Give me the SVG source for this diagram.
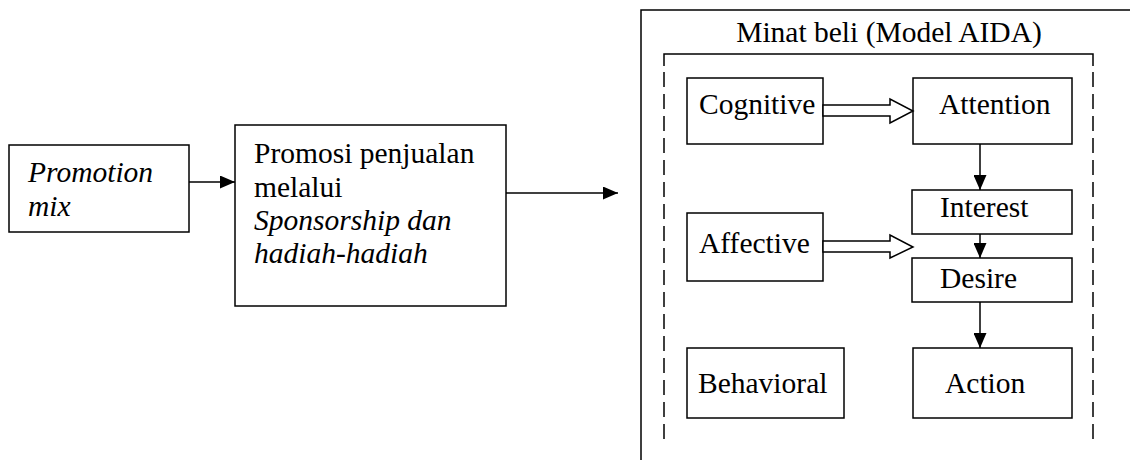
<svg xmlns="http://www.w3.org/2000/svg" width="1130" height="460" viewBox="0 0 1130 460">
<style>
  .box { fill: #fff; stroke: #000; stroke-width: 1.5; }
  text { font-family: 'Liberation Serif', 'DejaVu Serif', serif; font-size: 29.5px; fill: #000; }
  .i { font-style: italic; }
  .ln { fill: none; stroke: #000; stroke-width: 1.5; }
  .dash { fill: none; stroke: #000; stroke-width: 1.5; stroke-dasharray: 15 7; }
  .hollow { fill: #fff; stroke: #000; stroke-width: 1.5; stroke-linejoin: miter; }
</style>
<defs>
  <marker id="ah" viewBox="0 0 15 13" refX="15" refY="6.5" markerWidth="15" markerHeight="13" markerUnits="userSpaceOnUse" orient="auto">
    <path d="M0,0 L15,6.5 L0,13 Z" fill="#000"/>
  </marker>
</defs>
<rect width="1130" height="460" fill="#fff"/>

<g id="frame">
  <path class="ln" d="M641,470 L641,10 L1140,10"/>
  <text x="889" y="42" text-anchor="middle">Minat beli (Model AIDA)</text>
  <path class="ln" d="M664,66 L664,54 L1093,54 L1093,66"/>
  <path class="dash" d="M664,72 L664,440"/>
  <path class="dash" d="M1093,72 L1093,440"/>
</g>

<g id="promotion-mix">
  <rect class="box" x="9" y="145" width="180" height="87"/>
  <text class="i" x="28" y="182">Promotion</text>
  <text class="i" x="28" y="216">mix</text>
</g>

<g id="promosi">
  <rect class="box" x="235" y="125" width="271" height="181"/>
  <text x="254" y="163">Promosi penjualan</text>
  <text x="254" y="197">melalui</text>
  <text class="i" x="254" y="230">Sponsorship dan</text>
  <text class="i" x="254" y="263">hadiah-hadiah</text>
</g>

<g id="cognitive">
  <rect class="box" x="687" y="78" width="136" height="66"/>
  <text x="699" y="114">Cognitive</text>
</g>
<g id="attention">
  <rect class="box" x="913" y="78" width="159" height="66"/>
  <text x="939" y="114">Attention</text>
</g>
<g id="affective">
  <rect class="box" x="687" y="213" width="136" height="68"/>
  <text x="699" y="253">Affective</text>
</g>
<g id="interest">
  <rect class="box" x="912" y="190" width="160" height="44"/>
  <text x="940" y="217">Interest</text>
</g>
<g id="desire">
  <rect class="box" x="912" y="258" width="160" height="44"/>
  <text x="940" y="288">Desire</text>
</g>
<g id="behavioral">
  <rect class="box" x="687" y="348" width="157" height="70"/>
  <text x="698" y="393">Behavioral</text>
</g>
<g id="action">
  <rect class="box" x="913" y="348" width="159" height="70"/>
  <text x="945" y="393">Action</text>
</g>

<g id="connectors">
  <line class="ln" x1="189" y1="182" x2="235" y2="182" marker-end="url(#ah)"/>
  <line class="ln" x1="506" y1="193" x2="618" y2="193" marker-end="url(#ah)"/>
  <polygon class="hollow" points="823,105 890,105 890,99 913,111 890,123 890,116 823,116"/>
  <polygon class="hollow" points="823,241 890,241 890,235 913,247 890,258 890,252 823,252"/>
  <line class="ln" x1="980" y1="144" x2="980" y2="190" marker-end="url(#ah)"/>
  <line class="ln" x1="980" y1="234" x2="980" y2="258" marker-end="url(#ah)"/>
  <line class="ln" x1="980" y1="302" x2="980" y2="348" marker-end="url(#ah)"/>
</g>
</svg>
